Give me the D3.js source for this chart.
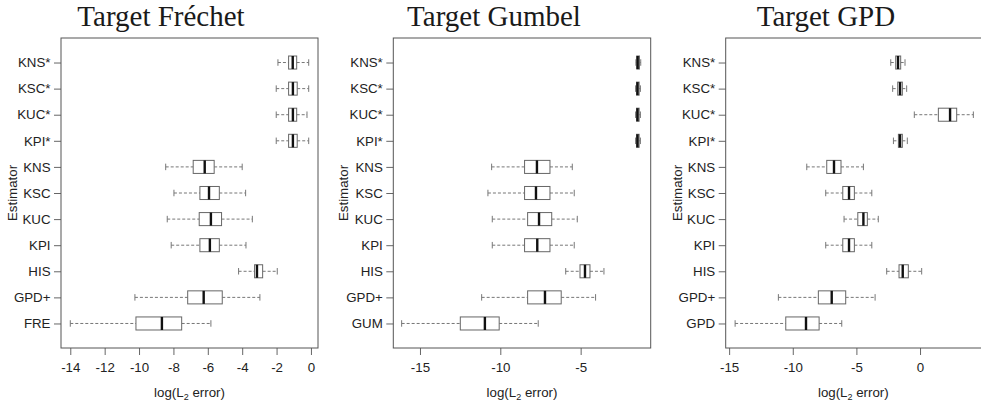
<html>
  <head>
    <meta charset="utf-8" />
    <title>Estimator boxplots</title>
    <script src="https://d3js.org/d3.v7.min.js"></script>
    <style>

      body {
        margin: 0;
        background: #fff;
      }

      text {
        font-family: "Liberation Sans", Arial, sans-serif;
        font-size: 13.3px;
        fill: #222;
      }

      .title {
        font-family: "Liberation Serif", serif;
        font-size: 29px;
        fill: #1a1a1a;
      }

      .frame {
        fill: none;
        stroke: #555;
      }

      .tick line {
        stroke: #666;
      }

    </style>
  </head>
  <body>

    <svg id="chart"></svg>

    <script>

      var estimators = ["KNS*", "KSC*", "KUC*", "KPI*", "KNS", "KSC", "KUC", "KPI", "HIS", "GPD+"];
      var titles = ["Target Fréchet", "Target Gumbel", "Target GPD"];
      var targetNames = ["FRE", "GUM", "GPD"];

      // each row: [lower whisker, q1, median, q3, upper whisker]
      var frechet = [
        [-1.92, -1.30, -1.06, -0.83, -0.13],
        [-2.02, -1.30, -1.05, -0.80, -0.13],
        [-2.02, -1.30, -1.05, -0.83, -0.23],
        [-2.02, -1.30, -1.05, -0.80, -0.13],
        [-8.45, -6.85, -6.18, -5.63, -4.00],
        [-7.97, -6.46, -5.93, -5.33, -3.80],
        [-8.36, -6.50, -5.82, -5.20, -3.41],
        [-8.13, -6.46, -5.88, -5.33, -3.78],
        [-4.21, -3.28, -3.14, -2.81, -1.96],
        [-10.24, -7.17, -6.24, -5.16, -2.97],
        [-14.00, -10.18, -8.67, -7.52, -5.82]
      ];

      var gumbel = [
        [-1.56, -1.51, -1.45, -1.34, -1.26],
        [-1.58, -1.52, -1.46, -1.36, -1.28],
        [-1.58, -1.52, -1.46, -1.36, -1.28],
        [-1.58, -1.52, -1.46, -1.36, -1.28],
        [-10.54, -8.49, -7.72, -6.91, -5.52],
        [-10.77, -8.49, -7.78, -6.91, -5.40],
        [-10.50, -8.30, -7.59, -6.80, -5.21],
        [-10.50, -8.49, -7.70, -6.91, -5.40],
        [-5.93, -5.04, -4.73, -4.42, -3.55],
        [-11.16, -8.30, -7.22, -6.21, -4.07],
        [-16.14, -12.49, -10.96, -10.07, -7.64]
      ];

      var gpd = [
        [-2.30, -1.91, -1.73, -1.52, -1.18],
        [-2.15, -1.75, -1.57, -1.39, -1.05],
        [-0.45, 1.44, 2.36, 2.88, 4.19],
        [-2.09, -1.70, -1.57, -1.39, -1.00],
        [-8.90, -7.33, -6.76, -6.21, -4.45],
        [-7.41, -6.07, -5.58, -5.16, -3.79],
        [-5.97, -4.89, -4.45, -4.14, -3.28],
        [-7.41, -6.07, -5.58, -5.16, -3.79],
        [-2.62, -1.65, -1.36, -0.92, 0.13],
        [-11.13, -7.99, -6.94, -5.84, -3.53],
        [-14.53, -10.55, -8.96, -7.93, -6.15]
      ];

      var frechetTicks = [-14, -12, -10, -8, -6, -4, -2, 0];
      var gumbelTicks = [-15, -10, -5];
      var gpdTicks = [-15, -10, -5, 0];

      var width = 981;
      var height = 406;
      var plotTop = 38;
      var plotBottom = 348;

      var svg = d3.select("#chart")
        .attr("width", width)
        .attr("height", height);

      var panels = [
        { title: titles[0], last: targetNames[0], stats: frechet, ticks: frechetTicks,
          left: 61, right: 318, domain: [-14.54, 0.41], titleX: 161, ylabX: 12 },
        { title: titles[1], last: targetNames[1], stats: gumbel, ticks: gumbelTicks,
          left: 393.3, right: 650.7, domain: [-16.66, -0.64], titleX: 494, ylabX: 343 },
        { title: titles[2], last: targetNames[2], stats: gpd, ticks: gpdTicks,
          left: 725.7, right: 982.9, domain: [-15.27, 4.94], titleX: 826, ylabX: 677 }
      ];

      // category positions 1..11 from top to bottom, R-style 4% padding
      var y = d3.scaleLinear()
        .domain([0.06, 11.94])
        .range([plotTop, plotBottom]);

      var boxHalf = (y(1.25) - y(1));
      var capHalf = (y(1.125) - y(1));

      panels.forEach(function(p) {

        var labels = estimators.concat([p.last]);

        var x = d3.scaleLinear()
          .domain(p.domain)
          .range([p.left, p.right]);

        var g = svg.append("g");

        g.append("text")
          .attr("class", "title")
          .attr("x", p.titleX)
          .attr("y", 26)
          .attr("text-anchor", "middle")
          .text(p.title);

        var yAxis = d3.axisLeft(y)
          .tickValues(d3.range(1, labels.length + 1))
          .tickFormat(function(d) { return labels[d - 1]; })
          .tickSize(7)
          .tickPadding(3.5);

        g.append("g")
          .attr("transform", "translate(" + p.left + ", 0)")
          .call(yAxis)
          .call(function(s) { s.select(".domain").remove(); })
          .attr("font-size", null)
          .attr("font-family", null);

        var xAxis = d3.axisBottom(x)
          .tickValues(p.ticks)
          .tickFormat(function(d) { return d; })
          .tickSize(7)
          .tickPadding(8);

        g.append("g")
          .attr("transform", "translate(0, " + plotBottom + ")")
          .call(xAxis)
          .call(function(s) { s.select(".domain").remove(); })
          .attr("font-size", null)
          .attr("font-family", null);

        g.append("rect")
          .attr("class", "frame")
          .attr("x", p.left)
          .attr("y", plotTop)
          .attr("width", p.right - p.left)
          .attr("height", plotBottom - plotTop);

        g.append("text")
          .attr("transform", "translate(" + p.ylabX + ", " + ((plotTop + plotBottom) / 2) + ") rotate(-90)")
          .attr("text-anchor", "middle")
          .attr("dy", "0.35em")
          .text("Estimator");

        var xlab = g.append("text")
          .attr("x", (p.left + Math.min(p.right, width)) / 2)
          .attr("y", 397)
          .attr("text-anchor", "middle");
        xlab.append("tspan").text("log(L");
        xlab.append("tspan").style("font-size", "9px").attr("dy", 3).text("2");
        xlab.append("tspan").attr("dy", -3).text(" error)");

        var boxes = g.selectAll(".box")
          .data(p.stats)
          .enter()
          .append("g")
          .attr("class", "box")
          .attr("transform", function(d, i) {
            return "translate(0, " + y(i + 1) + ")";
          });

        // whiskers
        boxes.append("line")
          .attr("x1", function(d) { return x(d[0]); })
          .attr("x2", function(d) { return x(d[1]); })
          .attr("stroke", "#777")
          .attr("stroke-dasharray", "3,2");

        boxes.append("line")
          .attr("x1", function(d) { return x(d[3]); })
          .attr("x2", function(d) { return x(d[4]); })
          .attr("stroke", "#777")
          .attr("stroke-dasharray", "3,2");

        // staples
        [0, 4].forEach(function(k) {
          boxes.append("line")
            .attr("x1", function(d) { return x(d[k]); })
            .attr("x2", function(d) { return x(d[k]); })
            .attr("y1", -capHalf)
            .attr("y2", capHalf)
            .attr("stroke", "#777");
        });

        boxes.append("rect")
          .attr("x", function(d) { return x(d[1]); })
          .attr("y", -boxHalf)
          .attr("width", function(d) { return x(d[3]) - x(d[1]); })
          .attr("height", boxHalf * 2)
          .attr("fill", "#fff")
          .attr("stroke", "#666");

        boxes.append("line")
          .attr("x1", function(d) { return x(d[2]); })
          .attr("x2", function(d) { return x(d[2]); })
          .attr("y1", -boxHalf)
          .attr("y2", boxHalf)
          .attr("stroke", "#111")
          .attr("stroke-width", 2.4);

      });

    </script>
  </body>
</html>
